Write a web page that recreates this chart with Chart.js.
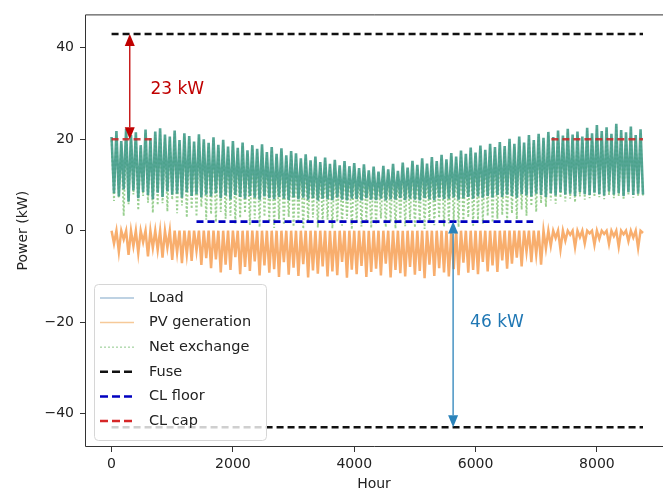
<!DOCTYPE html>
<html>
<head>
<meta charset="utf-8">
<title>Power (kW) vs Hour</title>
<script src="https://cdn.jsdelivr.net/npm/chart.js@4.4.1/dist/chart.umd.min.js"></script>
<style>
  html, body { margin:0; padding:0; background:#fff; overflow:hidden; }
  #chart { display:block; }
</style>
</head>
<body>
<canvas id="chart" width="663" height="493"></canvas>
<script>
// ── DATA ────────────────────────────────────────────────────────────────────
// one sample every 40 h, read off the envelope of the hourly traces (kW)
const HOUR_STEP = 40;

const loadKW = [
  20.5,8.2, 21.8,7.5, 19.6,9.0, 22.3,6.4, 20.9,8.8, 21.5,7.1, 18.7,8.5, 22.1,7.8, 20.2,6.9, 21.7,8.3,
  22.4,7.4, 21.0,8.6, 20.6,7.9, 21.9,8.1, 19.8,7.2, 21.3,8.4, 20.7,7.6, 19.5,8.0, 21.1,7.3, 20.0,7.9,
  19.2,7.5, 20.4,8.2, 18.8,7.1, 19.9,7.7, 18.4,6.9, 19.6,7.8, 18.1,7.4, 19.3,7.0, 17.6,7.6, 18.7,7.2,
  17.9,6.8, 18.9,7.5, 17.2,7.1, 18.3,6.9, 16.8,7.4, 18.0,7.0, 16.5,6.7, 17.4,7.3, 16.9,6.9, 15.8,7.2,
  16.7,6.8, 15.4,7.1, 16.2,6.6, 15.0,7.0, 16.0,6.9, 14.6,6.7, 15.5,7.2, 14.3,6.8, 15.2,6.6, 14.1,7.0,
  14.8,6.9, 13.7,6.6, 14.5,7.1, 13.2,6.8, 14.0,6.7, 12.9,7.0, 14.2,6.6, 13.4,6.9, 14.6,6.8, 13.1,7.1,
  14.9,6.7, 13.8,7.0, 15.3,6.8, 14.4,6.6, 15.8,7.1, 14.7,6.9, 16.1,6.7, 15.2,7.2, 16.6,6.9, 15.6,7.0,
  17.0,7.3, 16.2,6.8, 17.5,7.1, 16.8,7.4, 18.2,7.0, 17.1,7.5, 18.6,7.2, 17.7,7.6, 19.0,7.3, 18.3,7.8,
  19.4,7.4, 18.5,7.9, 20.1,7.6, 19.0,7.2, 20.6,8.0, 19.3,7.7, 20.9,7.5, 19.8,8.1, 21.2,7.8, 20.3,7.4,
  21.6,8.2, 20.5,7.7, 21.9,8.4, 20.8,7.9, 22.3,8.1, 21.0,7.6, 21.7,8.5, 20.6,8.0, 22.5,7.8, 21.3,8.3,
  23.1,8.0, 21.8,7.7, 22.6,8.6, 21.2,7.9, 23.4,8.2, 22.0,7.6, 21.5,8.4, 22.8,7.8, 20.9,8.1, 22.2,7.9
];

const pvKW = [
  0,-2.8, 0,-4.6, 0,-1.9, 0,-5.3, 0,-3.4, 0,-4.9, 0,-2.5, 0,-5.6, 0,-3.8, 0,-4.2,
  0,-5.9, 0,-3.7, 0,-6.4, 0,-4.8, 0,-7.1, 0,-5.2, 0,-6.6, 0,-4.4, 0,-7.5, 0,-6.0,
  0,-8.2, 0,-6.3, 0,-9.1, 0,-7.4, 0,-8.6, 0,-5.8, 0,-9.5, 0,-7.9, 0,-8.8, 0,-6.7,
  0,-9.8, 0,-7.6, 0,-9.2, 0,-8.4, 0,-10.1, 0,-6.9, 0,-9.6, 0,-8.1, 0,-9.9, 0,-7.3,
  0,-10.2, 0,-8.7, 0,-9.4, 0,-7.8, 0,-10.0, 0,-8.9, 0,-9.7, 0,-6.8, 0,-10.3, 0,-8.5,
  0,-9.5, 0,-7.7, 0,-10.1, 0,-9.0, 0,-8.3, 0,-9.8, 0,-7.2, 0,-10.2, 0,-8.6, 0,-9.3,
  0,-10.0, 0,-7.9, 0,-9.6, 0,-8.8, 0,-10.4, 0,-7.4, 0,-9.9, 0,-8.2, 0,-9.1, 0,-10.0,
  0,-8.4, 0,-9.7, 0,-7.0, 0,-9.2, 0,-8.6, 0,-9.5, 0,-6.8, 0,-8.9, 0,-7.6, 0,-9.0,
  0,-6.5, 0,-8.3, 0,-7.2, 0,-5.9, 0,-7.8, 0,-4.6, 0,-6.9, 0,-5.2, 0,-7.4, 0,-3.9,
  0,-3.3, 0,-1.6, 0,-4.1, 0,-2.2, 0,-0.9, 0,-3.6, 0,-1.4, 0,-2.8, 0,-0.6, 0,-3.1,
  0,-1.8, 0,-0.7, 0,-2.9, 0,-1.2, 0,-3.5, 0,-0.8, 0,-2.3, 0,-1.5, 0,-3.8, 0,-0.5
];

const netKW = [
  19.8,6.5, 21.0,7.2, 18.9,3.2, 21.6,5.8, 20.1,7.9, 20.8,4.5, 18.0,7.6, 21.4,6.1, 19.5,3.9, 21.0,5.6,
  21.7,6.0, 20.3,4.2, 19.9,6.8, 21.2,3.8, 19.1,5.5, 20.6,2.9, 20.0,4.8, 18.8,3.1, 20.4,5.2, 19.3,2.4,
  18.5,3.6, 19.7,1.9, 18.1,4.1, 19.2,2.6, 17.7,3.3, 18.9,1.5, 17.4,2.8, 18.6,3.9, 16.9,1.2, 18.0,2.7,
  17.2,0.8, 18.2,3.1, 16.5,1.9, 17.6,0.6, 16.1,2.5, 17.3,1.3, 15.8,3.0, 16.7,0.9, 16.2,2.2, 15.1,0.4,
  16.0,1.8, 14.7,2.9, 15.5,0.7, 14.3,1.6, 15.3,2.4, 13.9,0.5, 14.8,1.9, 13.6,1.1, 14.5,2.6, 13.4,0.3,
  14.1,1.7, 13.0,0.9, 13.8,2.3, 12.5,0.6, 13.3,1.4, 12.2,2.7, 13.5,0.8, 12.7,1.9, 13.9,0.5, 12.4,2.2,
  14.2,1.0, 13.1,2.5, 14.6,0.7, 13.7,1.8, 15.1,0.4, 14.0,2.0, 15.4,1.2, 14.5,2.8, 15.9,0.9, 14.9,1.6,
  16.3,2.3, 15.5,0.8, 16.8,1.9, 16.1,2.9, 17.5,1.1, 16.4,2.4, 17.9,1.5, 17.0,3.2, 18.3,1.8, 17.6,2.6,
  18.7,3.4, 17.8,1.7, 19.4,3.8, 18.3,2.5, 19.9,4.6, 18.6,3.3, 20.2,5.4, 19.1,4.1, 20.5,6.0, 19.6,5.2,
  20.9,6.6, 19.8,5.9, 21.2,7.2, 20.1,6.4, 21.6,7.0, 20.3,6.2, 21.0,7.5, 19.9,6.8, 21.8,7.1, 20.6,7.4,
  22.4,7.3, 21.1,6.9, 21.9,7.8, 20.5,7.1, 22.7,7.6, 21.3,6.8, 20.8,7.7, 22.1,7.2, 20.2,7.5, 21.5,7.3
];

// limits (kW) and the hours they cover
const fuseKW = 43;
const fuseSpan = [0, 8760];
const floorKW = 2;
const floorSpan = [1400, 6950];
const capKW = 20;
const capSpans = [[0, 720], [7250, 8760]];

const xTicks = [0, 2000, 4000, 6000, 8000];
const yTicks = [-40, -20, 0, 20, 40];

const legendLabels = ['Load', 'PV generation', 'Net exchange', 'Fuse', 'CL floor', 'CL cap'];

// annotation arrows: [hour, from kW, to kW], labels: [hour, kW, text]
const capArrow = [300, capKW, fuseKW];
const floorArrow = [5630, floorKW, -fuseKW];
const capLabel = [640, 30.9, '23 kW'];
const floorLabel = [5910, -20.2, '46 kW'];

// ── CHART ───────────────────────────────────────────────────────────────────
const FONT = "'DejaVu Sans', sans-serif";
const toXY = arr => arr.map((v, i) => ({x: i * HOUR_STEP, y: v}));
const hline = (span, y) => [{x: span[0], y}, {x: span[1], y}];

const legendStyle = [
  {color:'#a9c3da', width:1.5, dash:[]},
  {color:'#f6c999', width:1.5, dash:[]},
  {color:'#b4dbb1', width:1.5, dash:[2,2]},
  {color:'#111111', width:2.5, dash:[8,4]},
  {color:'#0000c0', width:2.5, dash:[8,4]},
  {color:'#d62728', width:2.5, dash:[8,4]},
];

const framePlugin = {
  id: 'frame',
  afterDatasetsDraw(chart) {
    const {ctx, chartArea: a} = chart;
    ctx.save();
    ctx.strokeStyle = '#333';
    ctx.lineWidth = 1;
    ctx.beginPath();
    ctx.moveTo(a.right, a.top + 0.5);
    ctx.lineTo(a.left + 0.5, a.top + 0.5);
    ctx.lineTo(a.left + 0.5, a.bottom - 0.5);
    ctx.lineTo(a.right, a.bottom - 0.5);
    ctx.stroke();
    ctx.restore();
  }
};

function drawArrow(ctx, x, y1, y2, color) {
  const dir = y2 > y1 ? 1 : -1, L = 12, W = 5;
  ctx.strokeStyle = color; ctx.fillStyle = color; ctx.lineWidth = 1.3;
  ctx.beginPath(); ctx.moveTo(x, y1 + dir * L); ctx.lineTo(x, y2 - dir * L); ctx.stroke();
  [[y1, -dir], [y2, dir]].forEach(([tip, d]) => {
    ctx.beginPath();
    ctx.moveTo(x, tip);
    ctx.lineTo(x - W, tip - d * L);
    ctx.lineTo(x + W, tip - d * L);
    ctx.closePath(); ctx.fill();
  });
}

const annotatePlugin = {
  id: 'annotate',
  afterDatasetsDraw(chart) {
    const {ctx, scales: {x, y}} = chart;
    ctx.save();
    drawArrow(ctx, x.getPixelForValue(capArrow[0]), y.getPixelForValue(capArrow[1]), y.getPixelForValue(capArrow[2]), '#c00000');
    drawArrow(ctx, x.getPixelForValue(floorArrow[0]), y.getPixelForValue(floorArrow[1]), y.getPixelForValue(floorArrow[2]), '#2b83ba');
    ctx.font = `17px ${FONT}`;
    ctx.textAlign = 'left'; ctx.textBaseline = 'middle';
    ctx.fillStyle = '#c00000';
    ctx.fillText(capLabel[2], x.getPixelForValue(capLabel[0]), y.getPixelForValue(capLabel[1]));
    ctx.fillStyle = '#1f77b4';
    ctx.fillText(floorLabel[2], x.getPixelForValue(floorLabel[0]), y.getPixelForValue(floorLabel[1]));
    ctx.restore();
  }
};

const legendPlugin = {
  id: 'boxLegend',
  afterDraw(chart) {
    const {ctx} = chart;
    const bx = 94, by = 284, bw = 172, bh = 156, r = 4, row = 24.6;
    ctx.save();
    ctx.beginPath();
    ctx.roundRect(bx + 0.5, by + 0.5, bw, bh, r);
    ctx.fillStyle = 'rgba(255,255,255,0.8)';
    ctx.fill();
    ctx.strokeStyle = '#d6d6d6'; ctx.lineWidth = 1;
    ctx.stroke();
    ctx.font = `14.5px ${FONT}`;
    ctx.textBaseline = 'middle'; ctx.textAlign = 'left';
    legendLabels.forEach((lab, i) => {
      const st = legendStyle[i], yy = by + 14 + i * row;
      ctx.strokeStyle = st.color; ctx.lineWidth = st.width; ctx.setLineDash(st.dash);
      ctx.beginPath(); ctx.moveTo(bx + 6, yy); ctx.lineTo(bx + 40, yy); ctx.stroke();
      ctx.setLineDash([]);
      ctx.fillStyle = '#222';
      ctx.fillText(lab, bx + 55, yy);
    });
    ctx.restore();
  }
};

const base = {pointRadius:0, pointHoverRadius:0, tension:0, fill:false};

new Chart(document.getElementById('chart'), {
  type: 'line',
  data: {
    datasets: [
      {...base, label: legendLabels[0], data: toXY(loadKW), borderColor:'rgba(70,158,140,0.92)', borderWidth:2.6, order:6},
      {...base, label: legendLabels[1], data: toXY(pvKW), borderColor:'rgba(248,170,102,0.95)', borderWidth:2.5, order:5},
      {...base, label: legendLabels[2], data: toXY(netKW), borderColor:'rgba(148,204,138,0.95)', borderWidth:1.9, borderDash:[2,2], order:7},
      {...base, label: legendLabels[3], data: hline(fuseSpan, fuseKW), borderColor:'#111', borderWidth:2.5, borderDash:[7,4], order:4},
      {...base, label: legendLabels[3], data: hline(fuseSpan, -fuseKW), borderColor:'#111', borderWidth:2.5, borderDash:[7,4], order:4},
      {...base, label: legendLabels[4], data: hline(floorSpan, floorKW), borderColor:'#0000c0', borderWidth:2.8, borderDash:[7,4], order:3},
      {...base, label: legendLabels[5], data: hline(capSpans[0], capKW), borderColor:'rgba(200,40,40,0.85)', borderWidth:2.5, borderDash:[7,4], order:2},
      {...base, label: legendLabels[5], data: hline(capSpans[1], capKW), borderColor:'rgba(200,40,40,0.85)', borderWidth:2.5, borderDash:[7,4], order:2},
    ]
  },
  options: {
    responsive:false, animation:false, devicePixelRatio:1,
    layout: {padding:{left:0, right:0, top:11, bottom:0}},
    plugins: {legend:{display:false}, tooltip:{enabled:false}},
    scales: {
      x: {
        type:'linear', min:-438, max:9090,
        afterFit: s => { s.height = 46; },
        afterBuildTicks: s => { s.ticks = xTicks.map(v => ({value:v})); },
        grid: {drawOnChartArea:false, drawTicks:true, tickLength:5, color:'#333', lineWidth:1},
        border: {display:false},
        ticks: {color:'#222', font:{family:FONT, size:14}, padding:4, maxRotation:0, autoSkip:false,
                callback: v => String(v)},
        title: {display:true, text:'Hour', color:'#222', font:{family:FONT, size:14}, padding:{top:0, bottom:0}}
      },
      y: {
        type:'linear', min:-47.3, max:47.3,
        afterFit: s => { s.width = 85; },
        afterBuildTicks: s => { s.ticks = yTicks.map(v => ({value:v})); },
        grid: {drawOnChartArea:false, drawTicks:true, tickLength:5, color:'#333', lineWidth:1},
        border: {display:false},
        ticks: {color:'#222', font:{family:FONT, size:14}, padding:6,
                callback: v => v < 0 ? '\u2212' + Math.abs(v) : String(v)},
        title: {display:true, text:'Power (kW)', color:'#222', font:{family:FONT, size:14}, padding:{top:15, bottom:0}}
      }
    }
  },
  plugins: [framePlugin, annotatePlugin, legendPlugin]
});
</script>
</body>
</html>
